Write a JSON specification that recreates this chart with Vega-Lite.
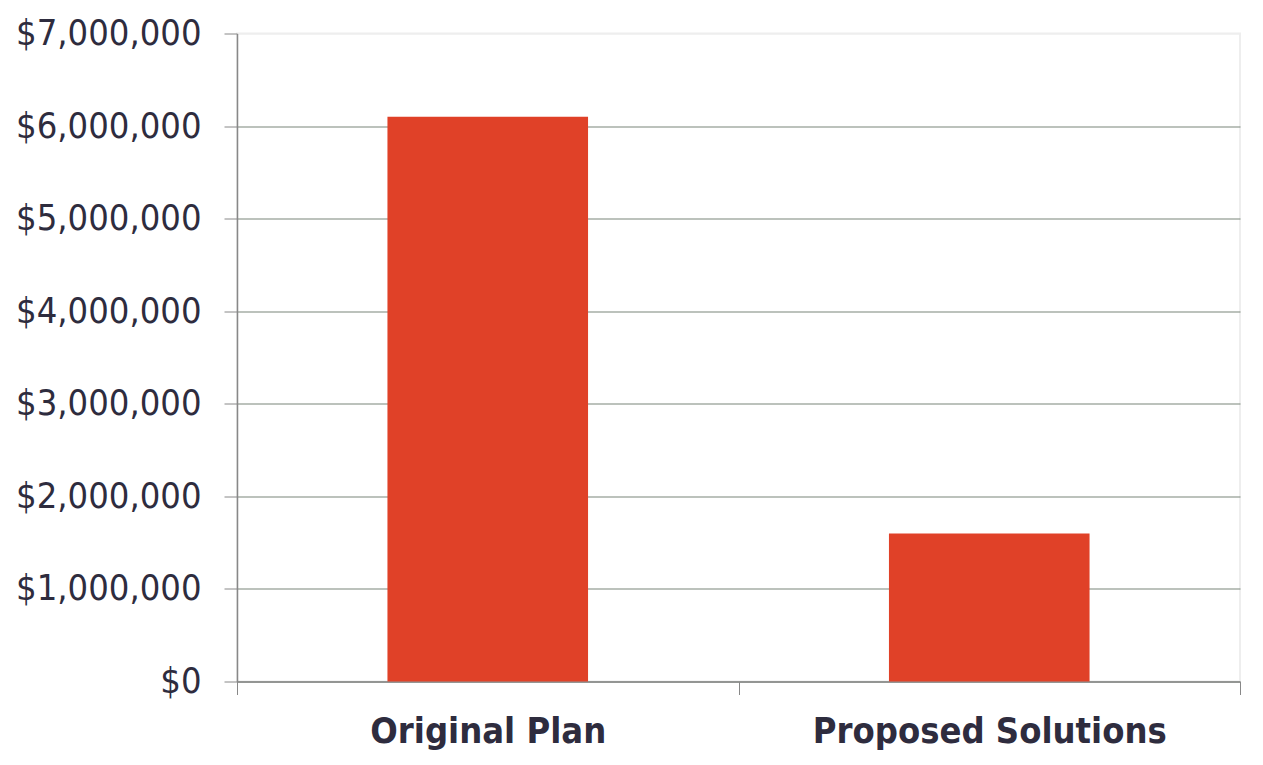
{
  "$schema": "https://vega.github.io/schema/vega-lite/v6.json",
  "width": 1003,
  "height": 648,
  "autosize": {"type": "none"},
  "padding": {"left": 237, "top": 33.5, "right": 23, "bottom": 83.5},
  "background": "white",
  "config": {
    "view": {"stroke": "#eeeeee", "strokeWidth": 2},
    "font": "DejaVu Sans Condensed"
  },
  "data": {
    "values": [
      {"plan": "Original Plan", "cost": 6100000},
      {"plan": "Proposed Solutions", "cost": 1600000}
    ]
  },
  "mark": {"type": "bar", "color": "#e04128", "width": {"band": 0.4}},
  "encoding": {
    "x": {
      "field": "plan",
      "type": "nominal",
      "sort": null,
      "scale": {"paddingInner": 0, "paddingOuter": 0},
      "axis": {
        "title": null,
        "labelAngle": 0,
        "labelFont": "DejaVu Sans Condensed, Noto Sans",
        "labelFontWeight": "bold",
        "labelFontSize": 36,
        "labelLimit": 0,
        "labelColor": "#2e2c3e",
        "labelPadding": 20,
        "tickBand": "extent",
        "tickSize": 13,
        "tickColor": "#888888",
        "domainColor": "#888888",
        "domainWidth": 1.5,
        "grid": false
      }
    },
    "y": {
      "field": "cost",
      "type": "quantitative",
      "scale": {"domain": [0, 7000000], "nice": false},
      "axis": {
        "title": null,
        "values": [0, 1000000, 2000000, 3000000, 4000000, 5000000, 6000000, 7000000],
        "format": "$,.0f",
        "labelFont": "DejaVu Sans Condensed, Noto Sans",
        "labelFontSize": 36,
        "labelLimit": 0,
        "labelColor": "#2e2c3e",
        "labelPadding": 23,
        "tickSize": 13,
        "tickColor": "#888888",
        "domainColor": "#888888",
        "domainWidth": 1.5,
        "grid": true,
        "gridColor": {"condition": {"test": "datum.value === 7000000", "value": "#eeeeee"}, "value": "#7a867a"},
        "gridWidth": 1.2
      }
    }
  }
}
